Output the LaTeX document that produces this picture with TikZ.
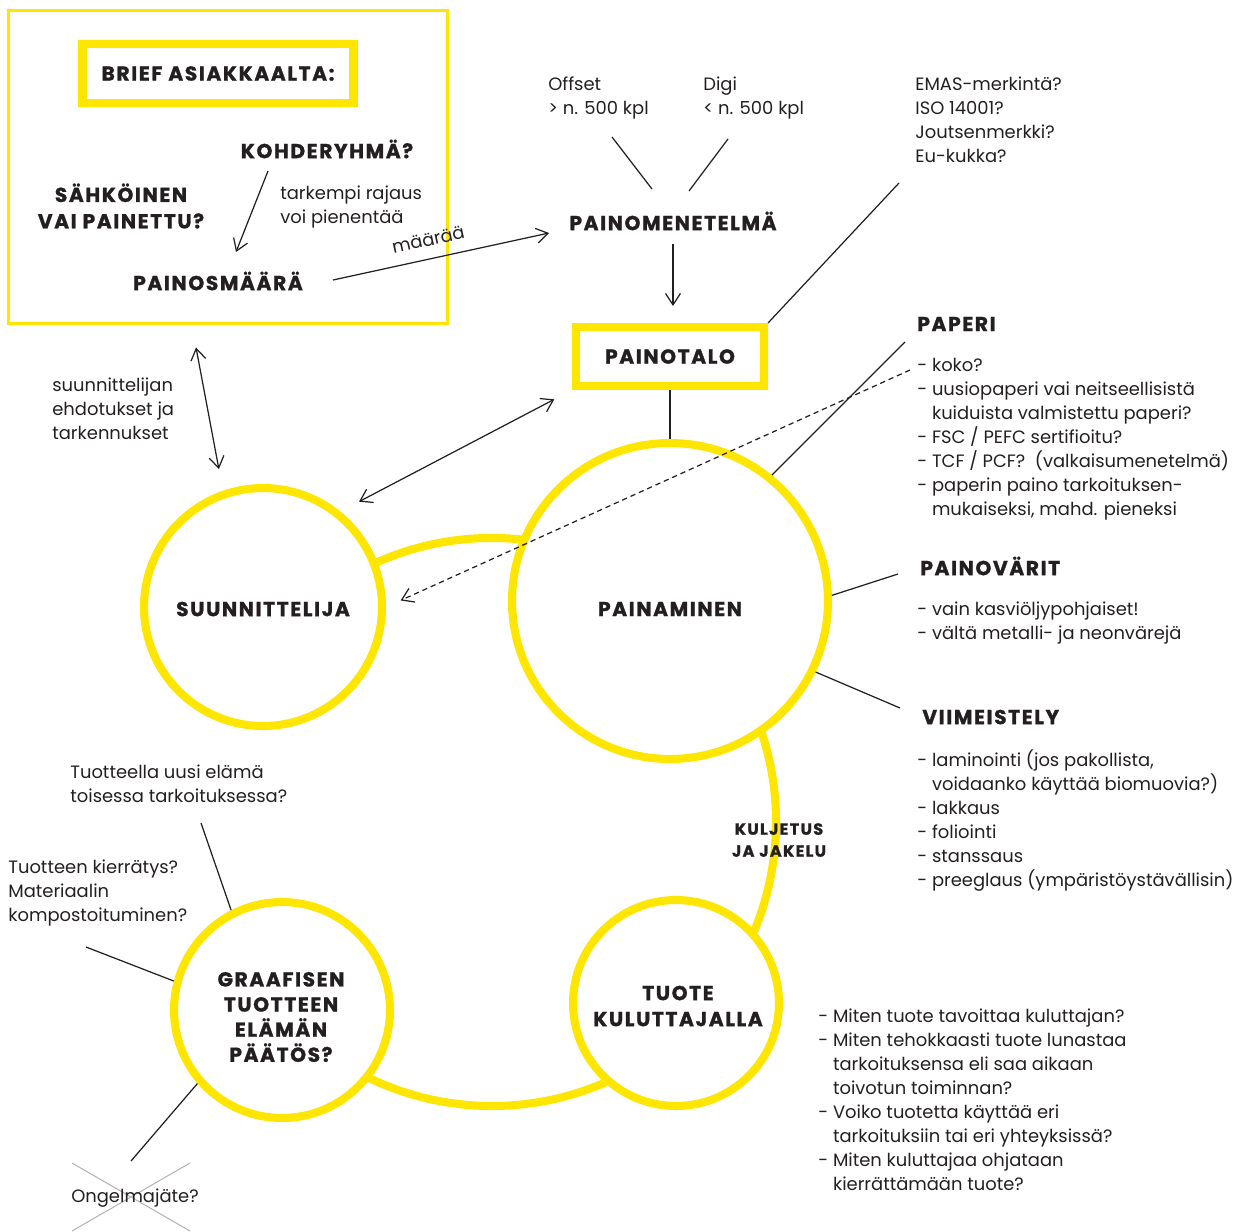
\documentclass[tikz,border=0pt]{standalone}
\usepackage{fontspec}
\setmainfont{Poppins}
\newfontfamily\headfont{Poppins}[LetterSpace=8, BoldFeatures={FakeBold=1.2}]
\usepackage{tikz}
\usetikzlibrary{arrows.meta, positioning, calc}

\definecolor{briefyellow}{HTML}{FFE600}
\definecolor{ink}{HTML}{231F20}
\definecolor{crossgrey}{HTML}{B4B4B4}

\tikzset{
  ring/.style={circle, draw=briefyellow, line width=4.6pt, fill=white, inner sep=0pt},
  ringline/.style={draw=briefyellow, line width=4.6pt},
  headtxt/.style={font=\headfont\bfseries\fontsize{11.5}{14.6}\selectfont, inner sep=0pt, align=center},
  bodytxt/.style={font=\fontsize{10.2}{13.6}\selectfont, inner sep=0pt, align=left, anchor=base west},
  framebox/.style={draw=briefyellow, line width=4.6pt},
  link/.style={line width=0.7pt},
  arr/.style={link, -{Straight Barb[length=6.5pt,width=8.5pt]}},
  dblarr/.style={link, {Straight Barb[length=6.5pt,width=8.5pt]}-{Straight Barb[length=6.5pt,width=8.5pt]}},
}

\begin{document}
\begin{tikzpicture}[x=0.02cm, y=-0.02cm, color=ink]
\useasboundingbox (0,0) rectangle (1240,1231);

% brief asiakkaalta
\node[draw=briefyellow, line width=1.7pt, minimum width=8.8cm, minimum height=6.28cm] (asiakas) at (228,167) {};
\node[framebox, headtxt, minimum width=5.42cm, minimum height=1.18cm] (brief) at (218,73.5) {BRIEF ASIAKKAALTA:};
\node[headtxt] (kohde) at (327,149) {KOHDERYHMÄ?};
\node[headtxt, font=\headfont\bfseries\fontsize{11.5}{15}\selectfont] (sahko) at (121,206) {SÄHKÖINEN\\VAI PAINETTU?};
\node[headtxt] (painos) at (218,281) {PAINOSMÄÄRÄ};
\node[bodytxt] (tarkempi) at (280,223) {tarkempi rajaus\\voi pienentää};
\draw[arr] ($(kohde)+(-59,22)$) -- ($(painos)+(18,-29)$);

% painomenetelma
\node[headtxt] (menet) at (673,221) {PAINOMENETELMÄ};
\node[bodytxt] (offset) at (548,114) {Offset\\> n. 500 kpl};
\node[bodytxt] (digi) at (703,114) {Digi\\< n. 500 kpl};
\draw[link] ($(menet)+(-61,-84)$) -- ($(menet)+(-21,-32)$);
\draw[link] ($(menet)+(55,-82)$) -- ($(menet)+(16,-30)$);
\draw[arr] ($(painos)+(115,-1)$) -- node[sloped, above=11pt, pos=0.46, bodytxt, anchor=center] {määrää} ($(menet)+(-124,12)$);

\node[framebox, headtxt, minimum width=3.76cm, minimum height=1.18cm] (talo) at (670,356.5) {PAINOTALO};
\draw[arr, shorten >=0.34cm] ($(menet)+(0,23)$) -- (talo.north -| menet);
\node[bodytxt] (emas) at (915,162) {EMAS-merkintä?\\ISO 14001?\\Joutsenmerkki?\\Eu-kukka?};
\coordinate (emasend) at (899,183);
\draw[link] (talo.north east) -- (emasend);

% kierto
\coordinate (kierto) at (492,822);
\draw[ringline] (kierto) ++(-122:284) arc[start angle=-122, end angle=124, radius=284];
\node[ring, minimum size=4.76cm] (suun) at (263,607) {};
\node[ring, minimum size=6.32cm] (paina) at (670,601) {};
\node[ring, minimum size=4.12cm] (tuote) at (676,1003) {};
\node[ring, minimum size=4.32cm] (elama) at (282,1010) {};
\node[headtxt] (suuntxt) at (263,609) {SUUNNITTELIJA};
\node[headtxt] (painatxt) at (670,609) {PAINAMINEN};
\node[headtxt, font=\headfont\bfseries\fontsize{11.5}{14.8}\selectfont] (tuotetxt) at (678,1006) {TUOTE\\KULUTTAJALLA};
\node[headtxt, font=\headfont\bfseries\fontsize{11.5}{14.3}\selectfont] (elamatxt) at (281,1017) {GRAAFISEN\\TUOTTEEN\\ELÄMÄN\\PÄÄTÖS?};
\node[headtxt, font=\headfont\bfseries\fontsize{9.2}{12.5}\selectfont] (kulj) at (779,840) {KULJETUS\\JA JAKELU};

\draw[link] (talo.south) -- (paina.north);
\draw[dblarr, shorten <=0.4cm, shorten >=0.42cm] (talo.south west) -- (suun.51.5);
\draw[dblarr, shorten >=0.44cm] ($(asiakas.south)+(-32,22)$) -- (suun.109.3);
\node[bodytxt] (ehdot) at (52,439) {suunnittelijan\\ehdotukset ja\\tarkennukset};

% paperi, varit, viimeistely
\node[headtxt, anchor=west] (paperi) at (917,324) {PAPERI};
\node[bodytxt] (paplist) at (917,515) {- koko?\\- uusiopaperi vai neitseellisistä\\\phantom{- }kuiduista valmistettu paperi?\\- FSC / PEFC sertifioitu?\\- TCF / PCF?~ (valkaisumenetelmä)\\- paperin paino tarkoituksen-\\\phantom{- }mukaiseksi, mahd. pieneksi};
\draw[link] (paina.51.5) -- ($(paperi.west)+(-12,18)$);
\draw[link, dash pattern=on 3pt off 2.2pt, -{Straight Barb[length=6.5pt,width=8.5pt]}, shorten >=0.32cm] ($(paperi.west)+(-7,46)$) -- (suun.east);

\node[headtxt, anchor=west] (varit) at (920,566) {PAINOVÄRIT};
\node[bodytxt] (varlist) at (917,639) {- vain kasviöljypohjaiset!\\- vältä metalli- ja neonvärejä};
\draw[link] (paina.2.5) -- ($(varit.west)+(-22,8)$);

\node[headtxt, anchor=west] (viim) at (922,717) {VIIMEISTELY};
\node[bodytxt] (viimlist) at (917,886) {- laminointi (jos pakollista,\\\phantom{- }voidaanko käyttää biomuovia?)\\- lakkaus\\- foliointi\\- stanssaus\\- preeglaus (ympäristöystävällisin)};
\draw[link] (paina.-26.7) -- ($(viim.west)+(-22,-9)$);

\node[bodytxt] (kysy) at (818,1190) {- Miten tuote tavoittaa kuluttajan?\\- Miten tehokkaasti tuote lunastaa\\\phantom{- }tarkoituksensa eli saa aikaan\\\phantom{- }toivotun toiminnan?\\- Voiko tuotetta käyttää eri\\\phantom{- }tarkoituksiin tai eri yhteyksissä?\\- Miten kuluttajaa ohjataan\\\phantom{- }kierrättämään tuote?};

% elaman paatos
\node[bodytxt] (uusi) at (70,802) {Tuotteella uusi elämä\\toisessa tarkoituksessa?};
\coordinate (uusiend) at (201,823);
\draw[link] (elama.117.5) -- (uusiend);
\node[bodytxt] (kierr) at (8,921) {Tuotteen kierrätys?\\Materiaalin\\kompostoituminen?};
\coordinate (kierrend) at (86,947);
\draw[link] (elama.165.5) -- (kierrend);
\draw[crossgrey, line width=0.6pt] (72,1163) -- (190,1231);
\draw[crossgrey, line width=0.6pt] (190,1163) -- (72,1231);
\node[bodytxt, anchor=center] (ongelma) at (135,1198) {Ongelmajäte?};
\draw[link] (elama.221.3) -- ($(ongelma)+(-4,-37)$);

\end{tikzpicture}
\end{document}
